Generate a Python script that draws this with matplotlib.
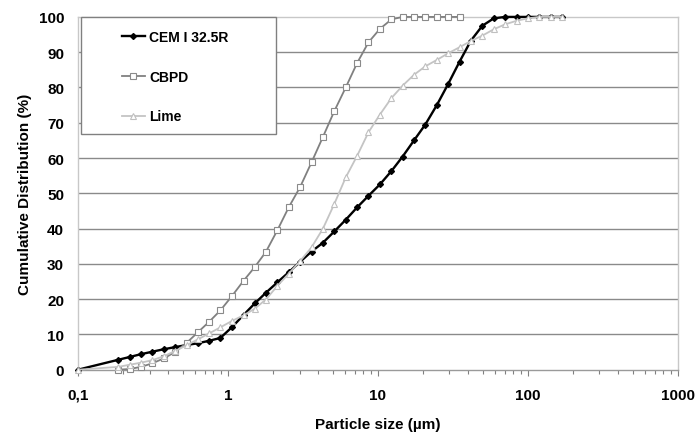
import matplotlib
matplotlib.use("Agg")
import matplotlib.pyplot as plt
from matplotlib.patches import Rectangle
from matplotlib.ticker import FixedLocator, NullFormatter, LogLocator

plt.rcParams['font.family'] = ['Liberation Sans', 'DejaVu Sans']

# Particle sizes (µm) of the measurement classes
sizes = [0.1, 0.185, 0.221, 0.263, 0.313, 0.373, 0.444, 0.53, 0.63, 0.75, 0.89,
         1.06, 1.27, 1.51, 1.79, 2.14, 2.54, 3.03, 3.61, 4.3, 5.12, 6.1, 7.26,
         8.65, 10.3, 12.3, 14.6, 17.4, 20.7, 24.7, 29.4, 35.0, 41.7, 49.7,
         59.2, 70.5, 84.0, 100.0, 119.0, 142.0, 169.0]

cem_values = [0, 2.8, 3.6, 4.4, 5.1, 5.8, 6.4, 7.0, 7.5, 8.2, 9.0,
              12.0, 15.5, 18.8, 21.8, 24.8, 27.6, 30.6, 33.5, 36.0, 39.2, 42.5, 46.0,
              49.3, 52.5, 56.3, 60.4, 65.0, 69.5, 75.0, 81.0, 87.3, 93.3, 97.5,
              99.6, 100, 100, 100, 100, 100, 100]

cbpd_sizes = sizes[1:32]
cbpd_values = [0, 0.2, 0.8, 1.8, 3.2, 5.0, 7.6, 10.6, 13.6, 16.8,
               20.8, 25.2, 29.1, 33.4, 39.6, 46.0, 51.8, 58.8, 66.0, 73.3, 80.0, 86.9,
               92.8, 96.6, 99.3, 100, 100, 100, 100, 100, 100]

lime_values = [0, 0.8, 1.4, 2.0, 2.7, 3.8, 5.3, 6.9, 8.6, 10.3, 12.0,
               13.8, 15.4, 17.3, 19.9, 23.8, 27.2, 30.8, 34.7, 40.0, 47.0, 54.5, 60.6,
               67.3, 72.3, 77.0, 80.5, 83.6, 86.0, 87.8, 89.7, 91.4, 93.2, 94.7,
               96.5, 97.9, 98.9, 99.6, 100, 100, 100]

labels = ["CEM I 32.5R", "CBPD", "Lime"]
x_ticks = [0.1, 1, 10, 100, 1000]
x_ticklabels = ["0,1", "1", "10", "100", "1000"]
y_ticks = [0, 10, 20, 30, 40, 50, 60, 70, 80, 90, 100]

fig = plt.figure(figsize=(6.96, 4.35), dpi=100)
ax = fig.add_axes([0.112, 0.1478, 0.862, 0.811])

ax.set_xscale('log')
ax.set_xlim(0.1, 1000)
ax.set_ylim(0, 100)

# gridlines
for y in y_ticks[1:-1]:
    ax.axhline(y, color='#8a8a8a', lw=1.0, zorder=1)

l1, = ax.plot(sizes, cem_values, color='black', lw=1.7, marker='D', ms=3.0,
              mfc='black', mec='black', zorder=3, label=labels[0])
l2, = ax.plot(cbpd_sizes, cbpd_values, color='#808080', lw=1.3, marker='s', ms=4.3,
              mfc='white', mec='#8a8a8a', mew=0.8, zorder=3, label=labels[1])
l3, = ax.plot(sizes, lime_values, color='#c4c4c4', lw=1.3, marker='^', ms=5.0,
              mfc='white', mec='#c0c0c0', mew=0.8, zorder=4, label=labels[2])
for l in (l1, l2, l3):
    l.set_clip_on(False)

ax.xaxis.set_major_locator(FixedLocator(x_ticks))
ax.set_xticklabels(x_ticklabels)
ax.xaxis.set_minor_locator(LogLocator(base=10, subs=[2, 3, 4, 5, 6, 7, 8, 9]))
ax.xaxis.set_minor_formatter(NullFormatter())
ax.tick_params(axis='x', which='major', direction='out', length=4, width=0.8,
               color='#808080', pad=9, labelsize=11)
ax.tick_params(axis='x', which='minor', direction='out', length=3, width=0.8,
               color='#808080')
ax.set_yticks(y_ticks)
ax.tick_params(axis='y', length=0, pad=10, labelsize=11)
for t in ax.get_xticklabels() + ax.get_yticklabels():
    t.set_fontweight('bold')

for s in ['left', 'top', 'right']:
    ax.spines[s].set_color('#c8c8c8')
    ax.spines[s].set_linewidth(1.0)
ax.spines['bottom'].set_color('#9a9a9a')
ax.spines['bottom'].set_linewidth(1.0)

ax.set_xlabel("Particle size (µm)", fontsize=11, fontweight='bold', labelpad=11)
ax.set_ylabel("Cumulative Distribution (%)", fontsize=11, fontweight='bold', labelpad=5)

# legend frame
ax.add_patch(Rectangle((0.005, 0.668), 0.325, 0.332, transform=ax.transAxes,
                       facecolor='white', edgecolor='#808080', lw=1.0, zorder=5,
                       clip_on=False))
leg = ax.legend(handles=[l1, l2, l3], loc='upper left',
                bbox_to_anchor=(0.0733, 0.963), frameon=False, borderpad=0,
                borderaxespad=0, labelspacing=1.85, handlelength=1.65,
                handletextpad=0.3, prop={'weight': 'bold', 'size': 10})
leg.set_zorder(6)

fig.savefig("out.png", dpi=100)
